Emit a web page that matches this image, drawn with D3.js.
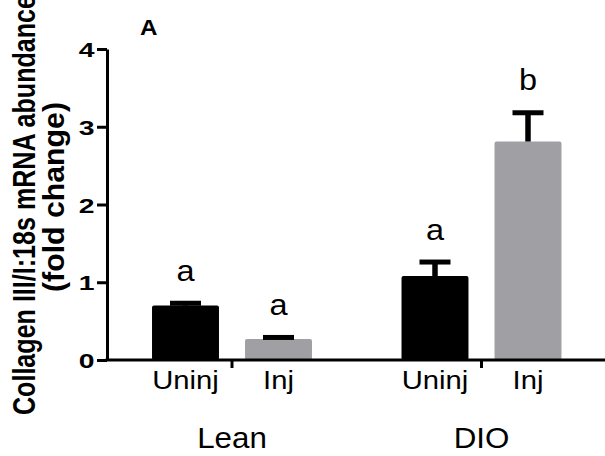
<!DOCTYPE html>
<html>
<head>
<meta charset="utf-8">
<script src="https://cdn.jsdelivr.net/npm/d3@7"></script>
<style>
  body { margin: 0; background: #fff; }
  svg { display: block; }
  text { font-family: "Liberation Sans", Arial, sans-serif; fill: #000; }
</style>
</head>
<body>
<svg width="605" height="456"></svg>
<script>
const groups = ['Lean', 'DIO'];
const conditions = ['Uninj', 'Inj'];
// order: Lean Uninj, Lean Inj, DIO Uninj, DIO Inj
const meanValues = [0.70, 0.27, 1.08, 2.81];
const semValues = [0.03, 0.02, 0.18, 0.37];
const sigLetters = ['a', 'a', 'a', 'b'];
const yTicks = [0, 1, 2, 3, 4];
const barColors = { Uninj: '#000000', Inj: '#a0a0a4' };

const rows = [];
groups.forEach((g, gi) => {
  conditions.forEach((c, ci) => {
    const i = gi * conditions.length + ci;
    rows.push({ group: g, cond: c, mean: meanValues[i], sem: semValues[i], letter: sigLetters[i] });
  });
});

const svg = d3.select('svg');
const width = +svg.attr('width');

const y = d3.scaleLinear().domain([0, 4]).range([360, 49]);

const x0 = d3.scaleBand()
  .domain(groups)
  .range([139, 574.5])
  .paddingInner(0.2545)
  .paddingOuter(0);

const x1 = d3.scaleBand()
  .domain(conditions)
  .range([0, x0.bandwidth()])
  .paddingInner(0.28)
  .paddingOuter(0.14);

const barX = (d) => x0(d.group) + x1(d.cond);
const barMid = (d) => barX(d) + x1.bandwidth() / 2;

// text with a horizontal stretch, the glyphs in the picture are wider than Arial
const stretchText = (sel, x, yy, sx) => {
  sel.attr('x', 0).attr('y', 0)
    .attr('transform', `translate(${x},${yy}) scale(${sx},1)`);
};

// bars
svg.append('g')
  .selectAll('rect')
  .data(rows)
  .enter().append('rect')
    .attr('x', barX)
    .attr('y', (d) => y(d.mean))
    .attr('width', x1.bandwidth())
    .attr('height', (d) => y(0) - y(d.mean))
    .attr('rx', 2)
    .attr('fill', (d) => barColors[d.cond]);

// error bars (upper only)
const err = svg.append('g')
  .selectAll('g')
  .data(rows)
  .enter().append('g');

err.append('line')
  .attr('x1', barMid).attr('x2', barMid)
  .attr('y1', (d) => y(d.mean))
  .attr('y2', (d) => y(d.mean + d.sem))
  .attr('stroke', '#000')
  .attr('stroke-width', 5.5);

err.append('line')
  .attr('x1', (d) => barMid(d) - 15.5)
  .attr('x2', (d) => barMid(d) + 15.5)
  .attr('y1', (d) => y(d.mean + d.sem))
  .attr('y2', (d) => y(d.mean + d.sem))
  .attr('stroke', '#000')
  .attr('stroke-width', 5);

// significance letters
svg.append('g')
  .selectAll('text')
  .data(rows)
  .enter().append('text')
    .attr('text-anchor', 'middle')
    .style('font-size', '29px')
    .text((d) => d.letter)
    .each(function (d) {
      stretchText(d3.select(this), barMid(d), y(d.mean + d.sem) - 22.5, 1.12);
    });

// y axis
const yAxis = svg.append('g')
  .attr('transform', 'translate(107,0)')
  .call(d3.axisLeft(y).tickValues(yTicks).tickSize(10).tickSizeOuter(0).tickFormat(d3.format('d')));

yAxis.select('.domain').attr('stroke', '#000').attr('stroke-width', 3);
yAxis.selectAll('.tick line').attr('stroke', '#000').attr('stroke-width', 3);
yAxis.selectAll('.tick text')
  .attr('x', 0).attr('dy', null)
  .attr('transform', 'translate(-12.5,7.5) scale(1.35,1)')
  .attr('text-anchor', 'end')
  .style('font-size', '21px')
  .style('font-weight', 'bold');

// x axis line spans to the right edge
svg.append('line')
  .attr('x1', 105.5).attr('x2', width)
  .attr('y1', y(0)).attr('y2', y(0))
  .attr('stroke', '#000')
  .attr('stroke-width', 3);

const xAxis = svg.append('g')
  .attr('transform', `translate(0,${y(0)})`)
  .call(d3.axisBottom(x0).tickSize(8).tickSizeOuter(0).tickFormat(''));

xAxis.select('.domain').remove();
xAxis.selectAll('.tick line').attr('stroke', '#000').attr('stroke-width', 3);

// condition labels under each bar
svg.append('g')
  .selectAll('text')
  .data(rows)
  .enter().append('text')
    .attr('text-anchor', 'middle')
    .style('font-size', '25px')
    .text((d) => d.cond)
    .each(function (d) {
      stretchText(d3.select(this), barMid(d), 389, 1.17);
    });

// group labels
svg.append('g')
  .selectAll('text')
  .data(groups)
  .enter().append('text')
    .attr('text-anchor', 'middle')
    .style('font-size', '29px')
    .text((d) => d)
    .each(function (d) {
      stretchText(d3.select(this), x0(d) + x0.bandwidth() / 2, 448, 1.08);
    });

// y axis title, two lines
svg.append('text')
  .attr('transform', 'translate(35,415) rotate(-90) scale(1,1.3)')
  .attr('text-anchor', 'start')
  .attr('textLength', 420)
  .attr('lengthAdjust', 'spacingAndGlyphs')
  .style('font-size', '24px')
  .style('font-weight', 'bold')
  .text('Collagen III/I:18s mRNA abundance');

svg.append('text')
  .attr('transform', 'translate(64,197) rotate(-90)')
  .attr('text-anchor', 'middle')
  .attr('textLength', 190)
  .attr('lengthAdjust', 'spacingAndGlyphs')
  .style('font-size', '29px')
  .style('font-weight', 'bold')
  .text('(fold change)');

// panel letter
svg.append('text')
  .style('font-size', '22px')
  .style('font-weight', 'bold')
  .text('A')
  .call((sel) => stretchText(sel, 140, 35, 1.1));
</script>
</body>
</html>
